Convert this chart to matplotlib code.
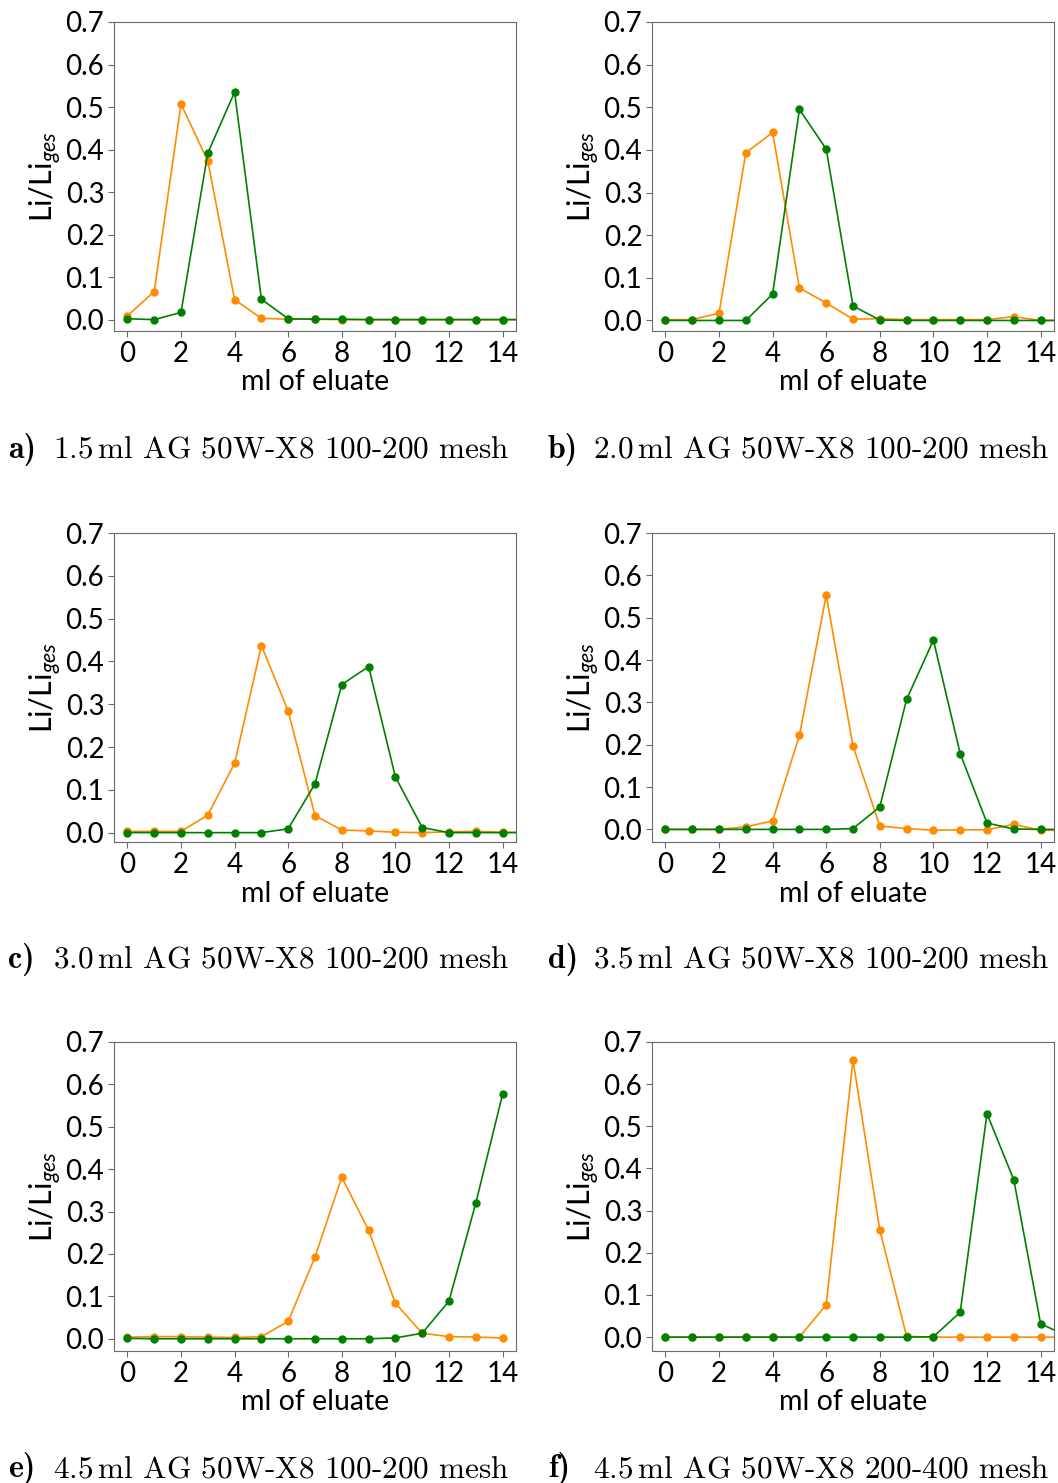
import matplotlib
matplotlib.use("Agg")
import matplotlib.pyplot as plt
import numpy as np

# Elution profiles (fraction of total Li per ml of eluate)
vol_a, mesh_a = "1.5", "100-200"
orange_a = [0.009, 0.066, 0.507, 0.373, 0.047, 0.003, 0.001, 0.001, 0.0, 0.0, 0.0, 0.0, 0.0, 0.0, 0.0, 0.0]
green_a = [0.002, 0.0, 0.017, 0.392, 0.535, 0.048, 0.002, 0.001, 0.001, 0.0, 0.0, 0.0, 0.0, 0.0, 0.0, 0.0]

vol_b, mesh_b = "2.0", "100-200"
orange_b = [0.002, 0.002, 0.017, 0.393, 0.441, 0.076, 0.041, 0.003, 0.004, 0.002, 0.002, 0.002, 0.002, 0.009, 0.0, 0.0]
green_b = [0.0, 0.0, 0.0, 0.0, 0.062, 0.495, 0.402, 0.034, 0.001, 0.0, 0.0, 0.0, 0.0, 0.0, 0.0, 0.0]

vol_c, mesh_c = "3.0", "100-200"
orange_c = [0.003, 0.003, 0.003, 0.041, 0.162, 0.437, 0.284, 0.040, 0.006, 0.004, 0.001, 0.0, 0.002, 0.003, 0.001, 0.001]
green_c = [0.0, 0.0, 0.0, 0.0, 0.0, 0.0, 0.009, 0.114, 0.346, 0.388, 0.130, 0.012, 0.0, 0.0, 0.0, 0.0]

vol_d, mesh_d = "3.5", "100-200"
orange_d = [0.0, 0.0, 0.0, 0.006, 0.020, 0.222, 0.553, 0.197, 0.008, 0.002, -0.002, -0.001, -0.001, 0.012, -0.002, -0.002]
green_d = [0.0, 0.0, 0.0, 0.0, 0.0, 0.0, 0.0, 0.002, 0.053, 0.307, 0.447, 0.179, 0.015, 0.001, 0.0, 0.0]

vol_e, mesh_e = "4.5", "100-200"
orange_e = [0.004, 0.005, 0.005, 0.004, 0.003, 0.005, 0.041, 0.193, 0.381, 0.256, 0.084, 0.013, 0.005, 0.004, 0.002]
green_e = [0.001, 0.0, 0.0, 0.0, 0.0, 0.0, 0.0, 0.0, 0.0, 0.0, 0.002, 0.013, 0.089, 0.320, 0.577]

vol_f, mesh_f = "4.5", "200-400"
orange_f = [0.0, 0.0, 0.0, 0.0, 0.0, 0.0, 0.077, 0.657, 0.254, 0.002, 0.0, 0.0, 0.0, 0.0, 0.0, 0.0]
green_f = [0.0, 0.0, 0.0, 0.0, 0.0, 0.0, 0.0, 0.0, 0.0, 0.0, 0.001, 0.059, 0.530, 0.373, 0.032, 0.002]

x_ticks = [0, 2, 4, 6, 8, 10, 12, 14]
y_ticks = [0.0, 0.1, 0.2, 0.3, 0.4, 0.5, 0.6, 0.7]

panels = [
    ("a)", vol_a, mesh_a, orange_a, green_a),
    ("b)", vol_b, mesh_b, orange_b, green_b),
    ("c)", vol_c, mesh_c, orange_c, green_c),
    ("d)", vol_d, mesh_d, orange_d, green_d),
    ("e)", vol_e, mesh_e, orange_e, green_e),
    ("f)", vol_f, mesh_f, orange_f, green_f),
]

plt.rcParams.update({
    "font.family": "Lato",
    "font.size": 20,
    "mathtext.fontset": "custom",
    "mathtext.rm": "Lato",
    "mathtext.it": "Lato:italic",
    "mathtext.bf": "Lato:bold",
})

W, H = 1058, 1483
fig = plt.figure(figsize=(W / 100, H / 100), dpi=100)

col_left = [114, 652]
row_top = [22, 533, 1042]
ax_w, ax_h = 402, 309
caption_base = [458, 968, 1477]
spine_col = "#6a6a6a"

for i, (lab, vol, mesh, orange, green) in enumerate(panels):
    r, c = divmod(i, 2)
    l, t = col_left[c], row_top[r]
    ax = fig.add_axes([l / W, 1 - (t + ax_h) / H, ax_w / W, ax_h / H])
    ax.plot(np.arange(len(orange)), orange, "-o", color="darkorange", ms=5, lw=1.2)
    ax.plot(np.arange(len(green)), green, "-o", color="green", ms=5, lw=1.2)
    ax.set_xlim(-0.5, 14.5)
    ax.set_ylim(top=0.7)
    ax.set_xticks(x_ticks)
    ax.set_yticks(y_ticks)
    ax.set_yticklabels([f"{v:.1f}" for v in y_ticks])
    ax.set_xlabel("ml of eluate", labelpad=2, fontsize=20.5)
    ax.set_ylabel(r"Li/Li$_{ges}$", labelpad=1, fontsize=22)
    for sp in ax.spines.values():
        sp.set_color(spine_col)
    ax.tick_params(color=spine_col, length=4, pad=3)

    x0 = 8 if c == 0 else 548
    yb = 1 - caption_base[r] / H
    fig.text(x0 / W, yb, lab, family="cmb10", size=23, va="baseline")
    fig.text((x0 + 45) / W, yb,
             rf"${vol}\,\mathrm{{ml}}$ AG 50W-X8 {mesh} mesh",
             family="cmr10", size=22.5, va="baseline", math_fontfamily="cm")

fig.savefig("out.png", dpi=100)
